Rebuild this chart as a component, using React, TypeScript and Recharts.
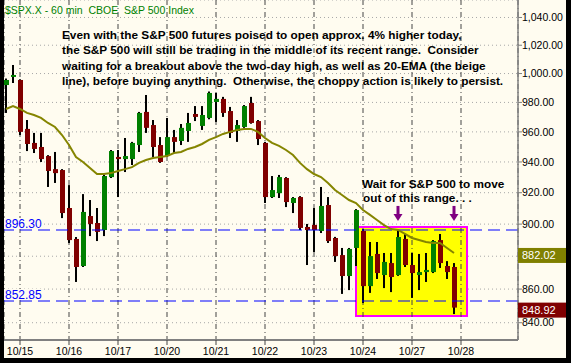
import React from 'react';
import {
  ComposedChart,
  Bar,
  Line,
  XAxis,
  YAxis,
  CartesianGrid,
  ReferenceLine,
  ReferenceArea,
  ReferenceDot,
} from 'recharts';

// ---- Data (60-min bars, S&P 500) ----
const opens = [
  992.0, 997.6, 995.5, 962.0, 952.6, 949.9, 943.9, 935.3, 934.7, 910.2,
  890.7, 874.0, 905.1, 900.7, 896.3, 930.1, 943.3, 941.9, 941.9, 951.2,
  973.5, 964.6, 951.2, 943.9, 956.5, 953.9, 960.6, 972.1, 964.0, 969.4,
  980.3, 982.4, 974.1, 960.6, 963.3, 979.6, 967.3, 952.6, 917.2, 919.7,
  929.5, 913.4, 917.2, 898.2, 899.5, 895.7, 912.1, 891.3, 880.7, 867.9,
  885.1, 895.7, 861.8, 881.4, 868.5, 875.8, 868.5, 890.7, 874.6, 868.5,
  870.3, 870.3, 890.0, 874.0, 873.4,
];
const highs = [
  996.5, 1006.0, 996.0, 968.0, 959.3, 959.3, 944.5, 946.6, 935.3, 924.9,
  891.9, 919.1, 915.3, 910.2, 931.5, 947.9, 947.9, 955.9, 953.3, 973.5,
  985.1, 968.0, 956.5, 969.4, 961.3, 965.3, 972.8, 977.5, 977.5, 987.5,
  986.5, 983.8, 976.9, 968.0, 978.2, 983.8, 968.0, 953.3, 930.8, 931.5,
  930.1, 917.2, 917.8, 900.1, 910.2, 923.7, 917.2, 892.0, 885.1, 885.1,
  909.5, 896.9, 888.8, 888.8, 882.0, 882.0, 896.3, 893.8, 882.0, 881.4,
  882.0, 890.0, 893.8, 877.0, 875.8,
];
const lows = [
  972.8, 993.4, 957.9, 947.2, 945.9, 940.0, 923.7, 926.3, 903.8, 888.2,
  864.3, 873.4, 892.5, 889.4, 892.5, 929.5, 917.2, 933.4, 938.0, 946.6,
  959.3, 943.3, 939.4, 943.3, 945.9, 951.2, 953.3, 967.3, 961.3, 968.5,
  966.7, 970.1, 955.9, 953.3, 962.7, 965.5, 951.2, 913.4, 916.6, 916.6,
  910.8, 907.0, 896.3, 874.6, 882.6, 894.4, 888.2, 876.5, 857.1, 859.4,
  874.0, 851.7, 857.7, 866.1, 860.6, 858.2, 868.0, 873.4, 854.7, 859.4,
  864.3, 869.7, 872.8, 866.1, 845.1,
];
const closes = [
  995.5, 999.0, 960.0, 951.9, 948.6, 941.9, 934.1, 932.7, 907.0, 890.0,
  873.4, 907.7, 900.1, 895.1, 930.8, 947.2, 941.9, 943.9, 952.6, 972.8,
  962.7, 949.9, 940.0, 956.5, 953.3, 962.7, 966.0, 970.1, 971.4, 986.5,
  982.4, 972.8, 959.3, 964.6, 977.5, 966.0, 955.2, 917.2, 921.7, 930.1,
  914.0, 916.6, 897.6, 896.3, 896.3, 911.5, 889.4, 880.1, 867.9, 884.5,
  908.9, 861.8, 880.1, 869.7, 876.5, 867.3, 891.9, 874.6, 869.7, 870.3,
  871.6, 889.4, 875.8, 870.3, 848.92,
];
const ema20 = [
  975.5, 977.5, 975.5, 972.8, 971.4, 969.4, 966.0, 963.3, 957.9, 951.2,
  943.3, 940.0, 936.0, 932.1, 932.1, 932.7, 934.1, 935.3, 936.6, 939.4,
  941.3, 942.6, 943.3, 943.9, 945.9, 946.6, 948.6, 949.9, 951.9, 954.6,
  956.5, 958.6, 960.0, 961.3, 962.0, 962.0, 960.0, 955.9, 952.6, 950.6,
  947.9, 944.6, 939.4, 935.3, 932.1, 930.1, 926.3, 921.7, 918.5, 915.3,
  913.4, 908.9, 905.8, 902.6, 899.4, 896.9, 896.3, 893.8, 891.3, 890.0,
  888.8, 888.2, 888.2, 885.1, 882.02,
];

const dayLabels = ['10/15', '10/16', '10/17', '10/20', '10/21', '10/22', '10/23', '10/24', '10/27', '10/28'];
const dayStartBars = [2, 9, 16, 23, 30, 37, 44, 51, 58, 65];
const priceTicks = [840, 860, 880, 900, 920, 940, 960, 980, 1000, 1020, 1040];

const resistance = 896.3;
const support = 852.85;
const lastClose = 848.92;
const lastEma = 882.02;
const rangeStartBar = 50;
const rangeEndBar = 65.86;
const rangeLow = 843.9;
const rangeHigh = 898.2;
const arrowBars = [56, 64];
const arrowTipPrice = 902.0;

const data = opens.map((o, i) => ({
  i,
  open: o,
  high: highs[i],
  low: lows[i],
  close: closes[i],
  range: [lows[i], highs[i]],
  ema: ema20[i],
}));

const BG = '#FFFCF0';
const FONT = '"Liberation Sans", Arial, sans-serif';

const Candle = (props: any) => {
  const { x, y, width, height, payload } = props;
  if (!payload || x == null || y == null) return null;
  const top = Math.min(y, y + height);
  const bot = Math.max(y, y + height);
  const lh = Math.log(payload.high);
  const ll = Math.log(payload.low);
  const span = lh - ll || 1;
  const py = (v: number) => top + ((lh - Math.log(v)) / span) * (bot - top);
  const yo = py(payload.open);
  const yc = py(payload.close);
  const up = payload.close >= payload.open;
  const bt = Math.min(yo, yc);
  const bh = Math.max(1, Math.abs(yo - yc));
  const cx = Math.round(x + width / 2);
  return (
    <g>
      <rect x={cx - 1} y={top} width={2} height={bot - top} fill="#000" />
      <rect x={cx - 2} y={bt} width={5} height={bh} fill={up ? '#008000' : '#800000'} />
    </g>
  );
};

const LevelLabel = (props: any) => {
  const { viewBox, text } = props;
  if (!viewBox) return null;
  const { x, y } = viewBox;
  return (
    <g>
      <rect x={x} y={y - 12} width={40} height={11} fill={BG} />
      <text x={x + 1} y={y - 2} fill="#0000FF" fontSize={12} fontFamily={FONT}>
        {text}
      </text>
    </g>
  );
};

const Badge = (props: any) => {
  const { viewBox, text, color } = props;
  if (!viewBox) return null;
  const { x, y, width } = viewBox;
  const left = x + width;
  return (
    <g>
      <rect x={left} y={y - 5} width={48} height={15} fill={color} />
      <text x={left + 4} y={y + 6} fill="#FFFFFF" fontSize={11} fontFamily={FONT}>
        {text}
      </text>
    </g>
  );
};

const Arrow = (props: any) => {
  const { cx, cy } = props;
  if (cx == null || cy == null) return null;
  return (
    <g>
      <rect x={cx - 1.5} y={cy - 15} width={3} height={9} fill="#800080" />
      <polygon points={`${cx - 4.5},${cy - 7} ${cx + 4.5},${cy - 7} ${cx},${cy}`} fill="#800080" />
    </g>
  );
};

const fmtPrice = (v: number) =>
  v.toLocaleString('en-US', { minimumFractionDigits: 2, maximumFractionDigits: 2 });

// price labels that sit under the value badges are covered by them
const badgeValues = [lastEma, lastClose];
const PriceTick = (props: any) => {
  const { x, y, payload } = props;
  if (!payload) return null;
  if (badgeValues.some((b) => Math.abs(b - payload.value) < 4)) return null;
  return (
    <text x={x} y={y} dy="0.355em" fill="#000" fontSize={10.5} fontFamily={FONT} textAnchor="start">
      {fmtPrice(payload.value)}
    </text>
  );
};

const noteLines = [
  'Even with the S&P 500 futures poised to open approx. 4% higher today,',
  'the S&P 500 will still be trading in the middle of its recent range.  Consider',
  'waiting for a breakout above the two-day high, as well as 20-EMA (the beige',
  'line), before buying anything.  Otherwise, the choppy action is likely to persist.',
];
const waitLines = ['Wait for S&P 500 to move', 'out of this range. . .'];
const titleText = '$SPX.X - 60 min  CBOE  S&P 500 Index';

export default function App() {
  return (
    <div style={{ position: 'absolute', left: 0, top: 0, width: 571, height: 363, background: '#000' }}>
      <div style={{ position: 'absolute', left: 4, top: 0, width: 562, height: 358, background: BG }}>
        <ComposedChart
          width={562}
          height={358}
          data={data}
          margin={{ top: 0, right: 0, bottom: 0, left: 0 }}
          style={{ fontFamily: FONT }}
        >
          <CartesianGrid vertical={false} stroke="#A8A8A8" strokeDasharray="1 3" />
          <ReferenceArea
            x1={rangeStartBar}
            x2={rangeEndBar}
            y1={rangeLow}
            y2={rangeHigh}
            fill="#FFFF00"
            fillOpacity={1}
            stroke="#FF00FF"
            strokeWidth={2}
            ifOverflow="visible"
          />
          <CartesianGrid horizontal={false} stroke="#444444" strokeDasharray="5 3 1 3" zIndex={150} />
          <XAxis
            dataKey="i"
            type="number"
            domain={[-2 / 7, 512 / 7]}
            allowDataOverflow
            ticks={dayStartBars}
            interval={0}
            tickFormatter={(v: number) => dayLabels[dayStartBars.indexOf(v)]}
            height={18}
            tickSize={5}
            tickMargin={3}
            axisLine={{ stroke: '#808080', strokeWidth: 2 }}
            tickLine={{ stroke: '#444444' }}
            tick={{ fill: '#000', fontSize: 10.5, fontFamily: FONT }}
          />
          <YAxis
            orientation="right"
            scale="log"
            domain={[829.9, 1052.8]}
            allowDataOverflow
            ticks={priceTicks}
            interval={0}
            width={48}
            tickSize={4}
            tickMargin={0}
            axisLine={{ stroke: '#808080', strokeWidth: 1.5 }}
            tickLine={{ stroke: '#808080' }}
            tick={<PriceTick />}
          />
          <ReferenceLine
            y={resistance}
            stroke="#0000FF"
            strokeDasharray="12 6"
            strokeWidth={1.2}
            label={<LevelLabel text={fmtPrice(resistance)} />}
          />
          <ReferenceLine
            y={support}
            stroke="#0000FF"
            strokeDasharray="12 6"
            strokeWidth={1.2}
            label={<LevelLabel text={fmtPrice(support)} />}
          />
          <Bar dataKey="range" barSize={5} shape={<Candle />} isAnimationActive={false} />
          <Line
            dataKey="ema"
            type="linear"
            stroke="#858500"
            strokeWidth={2}
            dot={false}
            activeDot={false}
            isAnimationActive={false}
          />
          <ReferenceLine
            y={lastEma}
            stroke="none"
            zIndex={2500}
            label={<Badge text={fmtPrice(lastEma)} color="#808000" />}
          />
          <ReferenceLine
            y={lastClose}
            stroke="none"
            zIndex={2500}
            label={<Badge text={fmtPrice(lastClose)} color="#800000" />}
          />
          {arrowBars.map((b) => (
            <ReferenceDot key={b} x={b} y={arrowTipPrice} r={1} shape={(p: any) => <Arrow cx={p.cx} cy={p.cy} />} />
          ))}
        </ComposedChart>
      </div>
      <svg
        width={571}
        height={363}
        style={{ position: 'absolute', left: 0, top: 0, pointerEvents: 'none' }}
      >
        <text x={5} y={14} fill="#008000" fontSize={10.5} fontFamily={FONT} style={{ whiteSpace: 'pre' }}>
          {titleText}
        </text>
        {noteLines.map((t, k) => (
          <text
            key={k}
            x={62}
            y={39 + k * 15.3}
            fill="#000"
            fontSize={11.8}
            fontWeight="bold"
            fontFamily={FONT}
            style={{ whiteSpace: 'pre' }}
          >
            {t}
          </text>
        ))}
        {waitLines.map((t, k) => (
          <text
            key={k}
            x={362 + k}
            y={188 + k * 14}
            fill="#000"
            fontSize={11.8}
            fontWeight="bold"
            fontFamily={FONT}
            style={{ whiteSpace: 'pre' }}
          >
            {t}
          </text>
        ))}
      </svg>
    </div>
  );
}
